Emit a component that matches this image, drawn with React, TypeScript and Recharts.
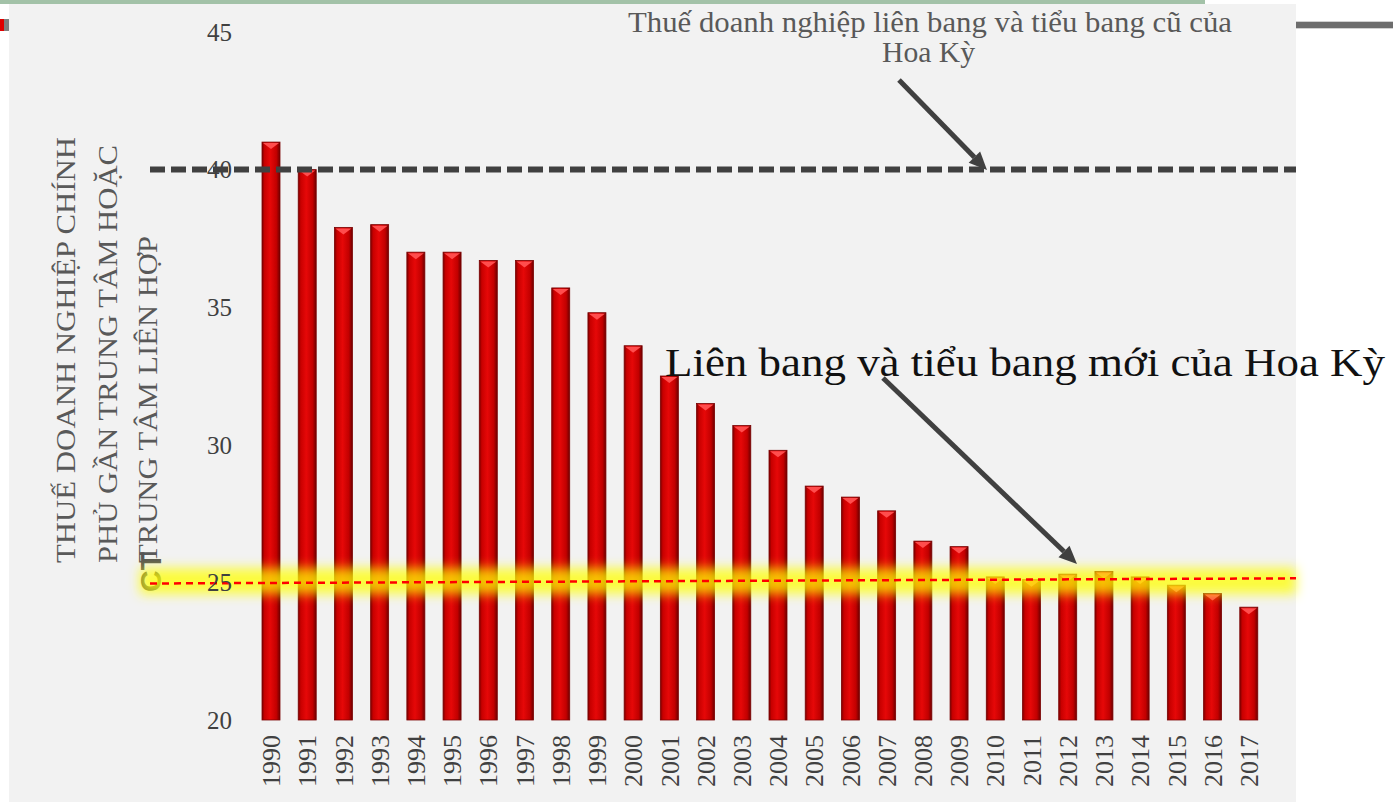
import React from 'react'
import { BarChart, Bar, XAxis, YAxis, ReferenceLine } from 'recharts'

const years = [
  '1990', '1991', '1992', '1993', '1994', '1995', '1996', '1997', '1998', '1999',
  '2000', '2001', '2002', '2003', '2004', '2005', '2006', '2007', '2008', '2009',
  '2010', '2011', '2012', '2013', '2014', '2015', '2016', '2017',
]
const taxRates = [
  41.0, 40.0, 37.9, 38.0, 37.0, 37.0, 36.7, 36.7, 35.7, 34.8,
  33.6, 32.5, 31.5, 30.7, 29.8, 28.5, 28.1, 27.6, 26.5, 26.3,
  25.2, 25.1, 25.3, 25.4, 25.2, 24.9, 24.6, 24.1,
]
const yTicks = [20, 25, 30, 35, 40, 45]
const oldUsRate = 40
const newUsRate = [24.98, 25.14] // red dashed line, left and right end
const highlightRate = 25.05

const yAxisTitle = ['THUẾ DOANH NGHIỆP CHÍNH', 'PHỦ GẦN TRUNG TÂM HOẶC', 'TRUNG TÂM LIÊN HỢP']
const oldLabel = ['Thuế doanh nghiệp liên bang và tiểu bang cũ của', 'Hoa Kỳ']
const newLabel = 'Liên bang và tiểu bang mới của Hoa Kỳ'

const data = years.map((year, i) => ({ year, rate: taxRates[i] }))

const W = 1393
const H = 802
const SERIF = "'Liberation Serif', 'Times New Roman', serif"

function GlossyBar(props: any) {
  const { x, y, width, height } = props
  if (!height || height <= 0) return null
  const cap = Math.min(7, height)
  return (
    <g>
      <rect x={x} y={y} width={width} height={height} fill="url(#barBody)" stroke="#7a0000" strokeWidth={0.8} />
      <path d={`M${x + 1},${y + 1} L${x + width - 1},${y + 1} L${x + width / 2},${y + cap} Z`} fill="#ff4d4d" />
    </g>
  )
}

function YearTick(props: any) {
  const { x, y, payload } = props
  return (
    <text
      x={x}
      y={y}
      dy="0.35em"
      transform={`rotate(-90 ${x} ${y})`}
      textAnchor="end"
      fill="#404040"
      fontSize={26}
      fontFamily={SERIF}
    >
      {payload.value}
    </text>
  )
}

function Arrow({ x1, y1, x2, y2 }: { x1: number; y1: number; x2: number; y2: number }) {
  const len = Math.hypot(x2 - x1, y2 - y1)
  const ux = (x2 - x1) / len
  const uy = (y2 - y1) / len
  const head = 18
  const half = 8
  const bx = x2 - ux * head
  const by = y2 - uy * head
  return (
    <g>
      <line x1={x1} y1={y1} x2={bx} y2={by} stroke="#404040" strokeWidth={5} />
      <polygon
        points={`${x2},${y2} ${bx - uy * half},${by + ux * half} ${bx + uy * half},${by - ux * half}`}
        fill="#404040"
      />
    </g>
  )
}

export default function App() {
  return (
    <div style={{ position: 'absolute', left: 0, top: 0, width: W, height: H, background: '#fff' }}>
      {/* slide background */}
      <svg width={W} height={H} style={{ position: 'absolute', left: 0, top: 0 }}>
        <rect x={0} y={0} width={1205} height={4} fill="#a3c2a8" />
        <rect x={9} y={4} width={1287} height={798} fill="#f2f2f2" />
        <rect x={0} y={19} width={4} height={12} fill="#e00000" />
        <rect x={4} y={19} width={5} height={12} fill="#7f7f7f" />
        <rect x={1296} y={21} width={97} height={8} fill="#d0d0d0" />
        <rect x={1296} y={22} width={97} height={6} fill="#6d6d6d" />
        {yAxisTitle.map((line, i) => {
          const cx = [65, 107, 147][i]
          const len = [426, 418, 327][i]
          return (
            <text
              key={line}
              x={cx}
              y={563}
              dy="0.35em"
              transform={`rotate(-90 ${cx} 563)`}
              textAnchor="start"
              fill="#595959"
              fontSize={28}
              fontFamily={SERIF}
              textLength={len}
              lengthAdjust="spacingAndGlyphs"
            >
              {line}
            </text>
          )
        })}
        <text
          x={150}
          y={592}
          dy="0.35em"
          transform="rotate(-90 150 592)"
          fill="#555"
          fontSize={30}
          fontWeight="bold"
          fontFamily="'Liberation Sans', Arial, sans-serif"
        >
          CT
        </text>
      </svg>

      <div style={{ position: 'absolute', left: 0, top: 0 }}>
        <BarChart width={W} height={H} data={data} margin={{ top: 32, right: 126, bottom: 0, left: 233 }}>
          <defs>
            <linearGradient id="barBody" x1="0" y1="0" x2="1" y2="0">
              <stop offset="0%" stopColor="#7a0000" />
              <stop offset="14%" stopColor="#c80000" />
              <stop offset="45%" stopColor="#e60808" />
              <stop offset="80%" stopColor="#c20000" />
              <stop offset="100%" stopColor="#6e0000" />
            </linearGradient>
            <filter id="glow" x="-5%" y="-150%" width="110%" height="400%">
              <feGaussianBlur stdDeviation="6" />
            </filter>
          </defs>
          <XAxis
            dataKey="year"
            interval={0}
            axisLine={false}
            tickLine={false}
            tickSize={0}
            tickMargin={15}
            height={82}
            tick={<YearTick />}
          />
          <YAxis
            domain={[20, 45]}
            ticks={yTicks}
            width={20}
            axisLine={false}
            tickLine={false}
            tickSize={0}
            tickMargin={21}
            tick={{ fill: '#404040', fontSize: 25, fontFamily: SERIF }}
          />
          <Bar dataKey="rate" barSize={18} shape={<GlossyBar />} isAnimationActive={false} />
          <ReferenceLine
            y={highlightRate}
            zIndex={600}
            shape={(p: any) => (
              <rect x={140} y={p.y1 - 13} width={1156} height={26} fill="#ffff00" fillOpacity={0.75} filter="url(#glow)" />
            )}
          />
          <ReferenceLine
            segment={[
              { x: years[0], y: newUsRate[0] },
              { x: years[years.length - 1], y: newUsRate[1] },
            ]}
            zIndex={650}
            shape={(p: any) => {
              const k = (p.y2 - p.y1) / (p.x2 - p.x1)
              const a = 150
              const b = 1296
              return (
                <line
                  x1={a}
                  y1={p.y1 + k * (a - p.x1)}
                  x2={b}
                  y2={p.y1 + k * (b - p.x1)}
                  stroke="#ff0000"
                  strokeWidth={2.5}
                  strokeDasharray="7 5"
                />
              )
            }}
          />
          <ReferenceLine
            y={oldUsRate}
            zIndex={650}
            shape={(p: any) => (
              <line x1={150} y1={p.y1} x2={1296} y2={p.y2} stroke="#404040" strokeWidth={6} strokeDasharray="15 6" />
            )}
          />
        </BarChart>
      </div>

      {/* annotations */}
      <svg width={W} height={H} style={{ position: 'absolute', left: 0, top: 0, pointerEvents: 'none' }}>
        <text x={628} y={32} fill="#595959" fontSize={29} fontFamily={SERIF} textLength={604} lengthAdjust="spacingAndGlyphs">
          {oldLabel[0]}
        </text>
        <text x={882} y={62} fill="#595959" fontSize={29} fontFamily={SERIF} textLength={93} lengthAdjust="spacingAndGlyphs">
          {oldLabel[1]}
        </text>
        <Arrow x1={899} y1={80} x2={987} y2={170} />
        <text x={665} y={376} fill="#111" fontSize={40} fontFamily={SERIF} textLength={720} lengthAdjust="spacingAndGlyphs">
          {newLabel}
        </text>
        <Arrow x1={883} y1={378} x2={1077} y2={564} />
      </svg>
    </div>
  )
}
